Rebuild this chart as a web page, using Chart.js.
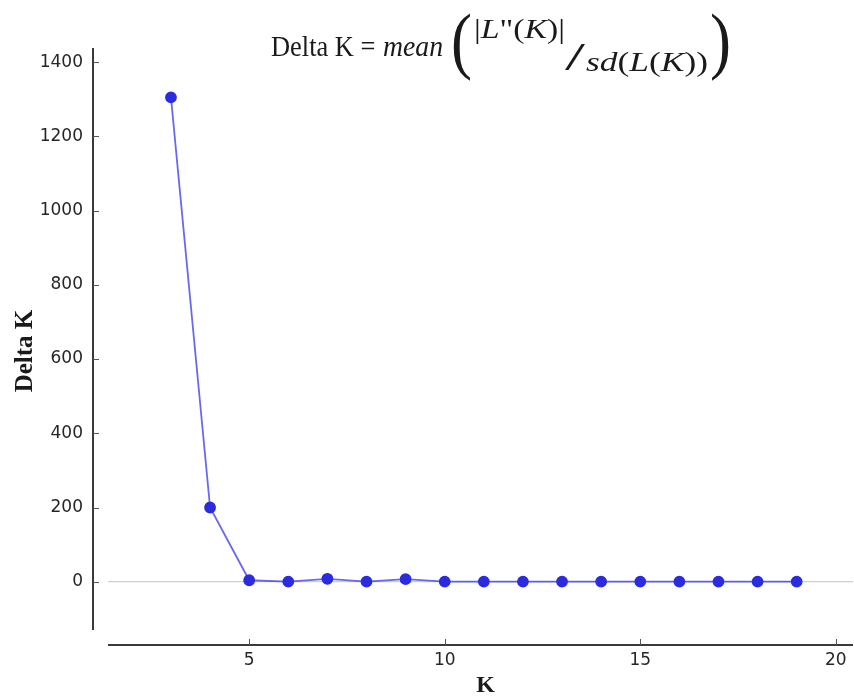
<!DOCTYPE html>
<html>
<head>
<meta charset="utf-8">
<script src="https://cdn.jsdelivr.net/npm/chart.js@4/dist/chart.umd.min.js"></script>
<style>
  html, body { margin: 0; padding: 0; background: #fff; }
  #wrap { width: 854px; height: 696px; }
</style>
</head>
<body>
<div id="wrap"><canvas id="chart"></canvas></div>
<script>
// values
const kValues = [3, 4, 5, 6, 7, 8, 9, 10, 11, 12, 13, 14, 15, 16, 17, 18, 19];
const deltaK = [1305, 200, 4, 0.5, 8, 0.5, 7, 0.5, 0.5, 0.5, 0.5, 0.5, 0.5, 0.5, 0.5, 0.5, 0.5];
const xTicks = [5, 10, 15, 20];
const yTicks = [0, 200, 400, 600, 800, 1000, 1200, 1400];

const SERIF = '"Liberation Serif", "DejaVu Serif", serif';

// draws a list of text runs one after another, squeezed to a given width
function drawRuns(ctx, runs, x, baseline, width) {
    let total = 0;
    runs.forEach(r => { ctx.font = r.font; total += ctx.measureText(r.t).width; });
    ctx.save();
    ctx.translate(x, baseline);
    ctx.scale(width / total, 1);
    let cx = 0;
    runs.forEach(r => {
        ctx.font = r.font;
        ctx.fillText(r.t, cx, 0);
        cx += ctx.measureText(r.t).width;
    });
    ctx.restore();
}

// offset spines, inward ticks, titles
const decorations = {
    id: 'decorations',
    afterDraw(chart) {
        const { ctx, chartArea: a, scales: { x, y } } = chart;
        const ax = a.left - 15;
        const ay = a.bottom + 15;
        ctx.save();
        ctx.strokeStyle = '#3a3a3a';
        ctx.lineWidth = 2;
        ctx.beginPath();
        ctx.moveTo(ax, a.top);
        ctx.lineTo(ax, a.bottom);
        ctx.moveTo(a.left, ay);
        ctx.lineTo(a.right, ay);
        ctx.stroke();

        ctx.strokeStyle = '#555';
        ctx.lineWidth = 1;
        ctx.beginPath();
        yTicks.forEach(v => {
            const p = Math.round(y.getPixelForValue(v)) + 0.5;
            ctx.moveTo(ax, p);
            ctx.lineTo(ax + 6, p);
        });
        xTicks.forEach(v => {
            const p = Math.round(x.getPixelForValue(v)) + 0.5;
            ctx.moveTo(p, ay);
            ctx.lineTo(p, ay - 6);
        });
        ctx.stroke();

        // axis titles
        ctx.fillStyle = '#1a1a1a';
        ctx.textAlign = 'center';
        ctx.textBaseline = 'alphabetic';
        ctx.font = 'bold 24px ' + SERIF;
        ctx.fillText('K', 485.5, 692);
        ctx.save();
        ctx.translate(32, 351);
        ctx.rotate(-Math.PI / 2);
        ctx.font = 'bold 25px ' + SERIF;
        ctx.fillText('Delta K', 0, 0);
        ctx.restore();

        // formula title
        ctx.textAlign = 'left';
        const reg = s => s + 'px ' + SERIF;
        const ita = s => 'italic ' + s + 'px ' + SERIF;
        drawRuns(ctx, [{ t: 'Delta K = ', font: reg(30) }], 271, 56, 111);
        drawRuns(ctx, [{ t: 'mean', font: ita(30) }], 383, 56, 60);
        drawRuns(ctx, [{ t: '(', font: reg(75) }], 451, 65, 21);
        drawRuns(ctx, [
            { t: '|', font: reg(28) }, { t: 'L', font: ita(28) }, { t: '"', font: reg(28) },
            { t: '(', font: reg(28) }, { t: 'K', font: ita(28) }, { t: ')', font: reg(28) },
            { t: '|', font: reg(28) }
        ], 474, 38, 91);
        drawRuns(ctx, [{ t: '/', font: reg(40) }], 565, 70, 20);
        drawRuns(ctx, [
            { t: 'sd', font: ita(28) }, { t: '(', font: reg(28) }, { t: 'L', font: ita(28) },
            { t: '(', font: reg(28) }, { t: 'K', font: ita(28) }, { t: '))', font: reg(28) }
        ], 586, 71, 122);
        drawRuns(ctx, [{ t: ')', font: reg(75) }], 710, 65, 21);
        ctx.restore();
    }
};

const tickFont = { family: '"DejaVu Sans", sans-serif', size: 17 };

new Chart(document.getElementById('chart'), {
    type: 'line',
    data: {
        datasets: [{
            data: kValues.map((k, i) => ({ x: k, y: deltaK[i] })),
            borderColor: 'rgba(55, 55, 235, 0.75)',
            borderWidth: 1.8,
            pointBackgroundColor: '#2b2be0',
            pointBorderColor: '#2b2be0',
            pointRadius: 5,
            pointHoverRadius: 5,
            tension: 0
        }]
    },
    options: {
        responsive: true,
        maintainAspectRatio: false,
        animation: false,
        layout: { autoPadding: false, padding: { top: 48, right: 1, left: 0, bottom: 0 } },
        plugins: {
            legend: { display: false },
            tooltip: { enabled: false }
        },
        scales: {
            x: {
                type: 'linear',
                min: 1.39,
                max: 20.44,
                border: { display: false },
                grid: { display: false, drawTicks: false },
                afterBuildTicks: s => { s.ticks = xTicks.map(v => ({ value: v })); },
                afterFit: s => { s.height = 66; s.paddingLeft = 0; s.paddingRight = 0; },
                ticks: {
                    padding: 20,
                    color: '#262626',
                    font: tickFont,
                    callback: v => String(v)
                }
            },
            y: {
                min: -130,
                max: 1438,
                border: { display: false },
                grid: {
                    drawTicks: false,
                    color: ctx => (ctx.tick && ctx.tick.value === 0 ? '#cfcfcf' : 'rgba(0,0,0,0)'),
                    lineWidth: 1.2
                },
                afterBuildTicks: s => { s.ticks = yTicks.map(v => ({ value: v })); },
                afterFit: s => { s.width = 108; s.paddingTop = 0; s.paddingBottom = 0; },
                ticks: {
                    padding: 25,
                    color: '#262626',
                    font: tickFont,
                    callback: v => String(v)
                }
            }
        }
    },
    plugins: [decorations]
});
</script>
</body>
</html>
